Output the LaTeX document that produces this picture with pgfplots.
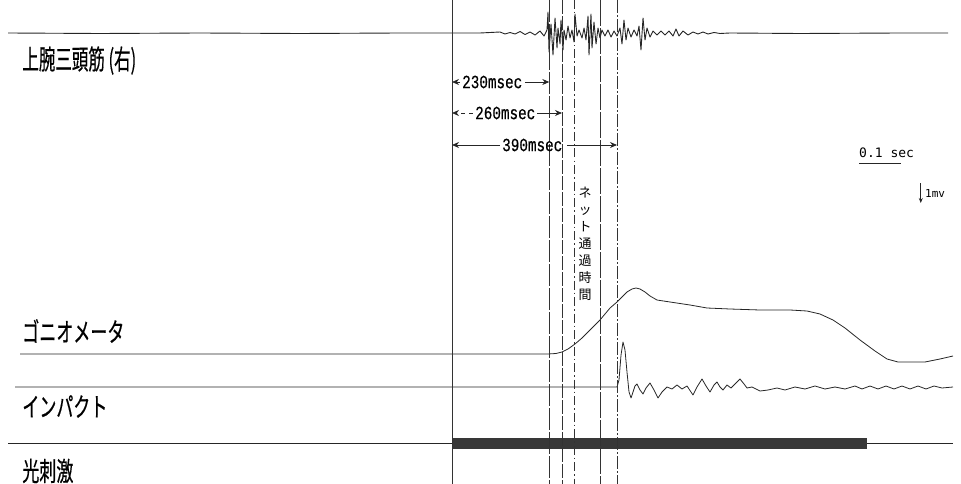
\documentclass[border=0pt]{standalone}
\usepackage{fontspec}
\usepackage{pgfplots}
\pgfplotsset{compat=1.18}
\usetikzlibrary{arrows.meta}
\newfontfamily\jp{Noto Sans CJK JP}[FakeBold=0.6]
\newfontfamily\jpn{Noto Sans CJK JP}
\newfontfamily\mono{Liberation Mono}[FakeBold=0.4]
\newfontfamily\smono{DejaVu Sans Mono}

\begin{document}
\begin{tikzpicture}
\begin{axis}[
  width=961pt, height=484pt, scale only axis,
  xmin=-1068.4, xmax=1203.1, ymin=0, ymax=484, y dir=reverse,
  hide axis, clip=false,
  trace/.style={black!85, line width=0.9pt, mark=none, line join=round},
  vline/.style={black!80, line width=0.9pt, mark=none},
]
\coordinate (c1) at (axis cs:-1068.4,0);
\coordinate (c2) at (axis cs:1203.1,484);

% --- triceps EMG (time in ms, vertical position in pt from top)
\addplot[trace] coordinates {
(-1049.4,33) (-832.0,33.5) (-595.6,33) (-359.3,33.5) (-122.9,33) (0,33)
(66.2,33) (113.5,32) (125.3,34) (137.1,32.5) (149.0,34) (160.8,31.5)
(172.6,34.5) (184.4,32) (196.3,35) (208.0,31) (217.5,36) (224.5,30)
(226.9,12) (229.3,52) (234.0,24) (238.7,55) (243.5,18) (248.2,48)
(250.5,28) (255.3,44) (257.6,20) (262.4,50) (264.7,30) (269.5,40)
(274.2,26) (278.9,38) (283.6,30) (288.4,42) (290.7,14) (295.5,36)
(300.2,30) (307.3,38) (312.0,28) (316.7,40) (321.5,16) (323.8,55)
(328.5,14) (330.9,48) (335.6,22) (340.4,44) (345.1,28) (349.8,38)
(354.5,30) (361.6,36) (368.7,30) (375.8,37) (382.9,31) (390.0,36)
(397.1,28) (401.8,44) (406.5,20) (411.3,40) (416.0,28) (423.1,37)
(430.2,30) (437.3,36) (442.0,26) (446.7,50) (451.5,18) (456.2,40)
(460.9,28) (468.0,37) (475.1,31) (484.5,35) (494.0,31) (503.4,35)
(512.9,31) (522.4,36) (529.4,29) (536.5,36) (546.0,31) (557.8,35)
(569.6,32) (581.5,34) (593.3,32) (605.1,34) (619.3,32.5) (633.4,33.5)
(657.1,33) (822.5,33.5) (1058.9,33) (1172.4,33)
};

% --- goniometer
\addplot[trace, line width=0.8pt] coordinates {
(-1021.1,354) (-595.6,354) (-122.9,354) (226.9,354) (245.8,353.5)
(260.0,352) (274.2,349) (290.7,344) (307.3,338) (326.2,330) (349.8,320)
(373.5,308) (390.0,302) (401.8,297) (413.6,292) (425.5,289) (434.9,288)
(444.4,289) (456.2,292) (468.0,296) (484.5,300) (515.3,302) (562.5,305)
(602.7,308) (657.1,309) (728.0,310) (798.9,310) (839.1,311) (869.8,314)
(900.5,320) (928.9,328) (964.4,340) (999.8,351) (1028.2,359) (1054.2,362)
(1082.5,362) (1118.0,362) (1153.4,359) (1184.2,356)
};

% --- impact
\addplot[trace, line width=0.8pt] coordinates {
(-1032.9,387) (390.0,387) (394.7,380) (399.5,355) (404.2,342) (408.9,350)
(413.6,372) (418.4,392) (423.1,398) (427.8,392) (432.5,386) (437.3,384)
(444.4,390) (451.5,394) (458.5,388) (468.0,383) (477.5,390) (486.9,398)
(496.4,392) (508.2,387) (520.0,389) (531.8,385) (543.6,389) (555.5,386)
(569.6,395) (579.1,387) (590.9,379) (600.4,386) (609.8,392) (619.3,385)
(626.4,382) (633.4,387) (640.5,390) (650.0,385) (659.4,388) (671.3,383)
(680.7,379) (690.2,384) (697.3,388) (709.1,387) (728.0,391) (746.9,390)
(768.2,388) (787.1,390) (810.7,387) (834.4,389) (858.0,386) (881.6,389)
(905.3,387) (928.9,389) (952.5,386) (969.1,389) (988.0,386) (1006.9,389)
(1025.8,386) (1044.7,389) (1063.6,386) (1082.5,389) (1101.4,386)
(1120.3,389) (1139.2,386) (1158.2,388) (1184.2,387)
};

% --- light stimulus: baseline and stimulus train
\addplot[trace, line width=0.9pt] coordinates {(-1049.4,443.5) (1184.2,443.5)};
\addplot[black!78, line width=11pt, mark=none] coordinates {(0,443) (981,443)};

% --- event markers
\addplot[vline] coordinates {(0,0) (0,484)};
\addplot[vline, dash pattern=on 22pt off 2pt] coordinates {(230,0) (230,484)};
\addplot[vline, dash pattern=on 14pt off 2pt] coordinates {(260,0) (260,484)};
\addplot[vline, dash pattern=on 9pt off 3pt on 1.5pt off 3pt] coordinates {(290,0) (290,484)};
\addplot[vline, dash pattern=on 26pt off 2pt] coordinates {(350,0) (350,484)};
\addplot[vline, dash pattern=on 13pt off 2pt on 2pt off 2pt] coordinates {(390,0) (390,484)};

% --- interval arrows
\draw[black!85, line width=0.8pt, -{Stealth[length=7pt,width=6pt]}] (axis cs:18.9,82) -- (axis cs:0,82);
\draw[black!85, line width=0.8pt, -{Stealth[length=7pt,width=6pt]}] (axis cs:172.5,82) -- (axis cs:230,82);
\node[anchor=west, inner sep=0pt, font=\mono\fontsize{14.3}{16}\selectfont] at (axis cs:23.6,82) {\scalebox{1}[1.3]{230msec}};

\draw[black!85, line width=0.8pt, dash pattern=on 4pt off 4pt, -{Stealth[length=7pt,width=6pt]}] (axis cs:49.6,113) -- (axis cs:0,113);
\draw[black!85, line width=0.8pt, -{Stealth[length=7pt,width=6pt]}] (axis cs:201,113) -- (axis cs:260,113);
\node[anchor=west, inner sep=0pt, font=\mono\fontsize{14.3}{16}\selectfont] at (axis cs:54.4,113) {\scalebox{1}[1.3]{260msec}};

\draw[black!85, line width=0.8pt, -{Stealth[length=7pt,width=6pt]}] (axis cs:113.5,145) -- (axis cs:0,145);
\draw[black!85, line width=0.8pt, -{Stealth[length=7pt,width=6pt]}] (axis cs:271.8,145) -- (axis cs:390,145);
\node[anchor=west, inner sep=0pt, font=\mono\fontsize{14.3}{16}\selectfont] at (axis cs:118.2,145) {\scalebox{1}[1.3]{390msec}};

% --- vertical label between markers
\node[align=center, inner sep=0pt, font=\jpn\fontsize{13}{16.9}\selectfont] at (axis cs:314.4,244) {ネ\\ッ\\ト\\通\\過\\時\\間};

% --- scale bars
\addplot[black!85, line width=1pt, mark=none] coordinates {(962,163) (1062,163)};
\node[anchor=west, inner sep=0pt, font=\smono\fontsize{13}{15}\selectfont] at (axis cs:962,153) {0.1 sec};
\draw[black!85, line width=0.8pt, -{Stealth[length=5pt,width=4pt]}] (axis cs:1108,183) -- (axis cs:1108,203);
\node[anchor=west, inner sep=0pt, font=\smono\fontsize{11}{13}\selectfont] at (axis cs:1118,193) {1mv};

% --- trace labels
\node[anchor=west, inner sep=0pt, font=\jp\fontsize{16.5}{20}\selectfont] at (axis cs:-1016,60.5) {\scalebox{1}[1.65]{上腕三頭筋 (右)}};
\node[anchor=west, inner sep=0pt, font=\jp\fontsize{17}{20}\selectfont] at (axis cs:-1016,331) {\scalebox{1}[1.55]{ゴニオメータ}};
\node[anchor=west, inner sep=0pt, font=\jp\fontsize{17}{20}\selectfont] at (axis cs:-1016,406.5) {\scalebox{1}[1.55]{インパクト}};
\node[anchor=west, inner sep=0pt, font=\jp\fontsize{17}{20}\selectfont] at (axis cs:-1016,471) {\scalebox{1}[1.55]{光刺激}};
\end{axis}
\pgfresetboundingbox
\path (c1) rectangle (c2);
\end{tikzpicture}
\end{document}
